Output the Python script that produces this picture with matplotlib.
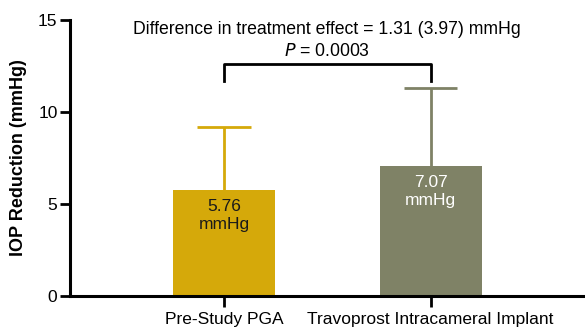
import matplotlib
matplotlib.use("Agg")
import matplotlib.pyplot as plt

plt.rcParams['font.family'] = ['Liberation Sans', 'DejaVu Sans']

categories = ["Pre-Study PGA", "Travoprost Intracameral Implant"]
means = [5.76, 7.07]
sds = [3.42, 4.22]
bar_labels = ["5.76\nmmHg", "7.07\nmmHg"]
label_colors = ["#1a1a1a", "white"]
colors = ["#D5A90A", "#7F8266"]
yticks = [0, 5, 10, 15]
diff_text = "Difference in treatment effect = 1.31 (3.97) mmHg"
p_text = "$\\it{P}$ = 0.0003"

fig = plt.figure(figsize=(5.85, 3.31), dpi=100)
ax = fig.add_axes([70/585, 35/331, 515/585, 276/331])

x = [0, 1]
cap_half = 0.13
for i in range(2):
    top = means[i] + sds[i]
    ax.vlines(x[i], means[i], top, color=colors[i], lw=2, zorder=1)
    ax.hlines(top, x[i] - cap_half, x[i] + cap_half, color=colors[i], lw=2, zorder=1)
    ax.bar(x[i], means[i], width=0.494, color=colors[i], zorder=2)
    ax.text(x[i], means[i] - 0.5, bar_labels[i], ha='center', va='top',
            fontsize=12.5, color=label_colors[i], linespacing=1.25, zorder=3)

# significance bracket
yb = 12.6
ax.plot([0, 0, 1, 1], [11.7, yb, yb, 11.7], color='black', lw=2, clip_on=False)
ax.text(0.5, 14.5, diff_text, ha='center', va='center', fontsize=12.7)
ax.text(0.5, 13.3, p_text, ha='center', va='center', fontsize=12.7)

ax.set_xlim(-0.746, 1.748)
ax.set_ylim(0, 15)
ax.set_yticks(yticks)
ax.set_xticks(x)
ax.set_xticklabels(categories, fontsize=12.5)
ax.tick_params(axis='y', labelsize=12.5, width=2, length=7, color='black', pad=2)
ax.tick_params(axis='x', width=2, length=8, pad=3.5)
for s in ['top', 'right']:
    ax.spines[s].set_visible(False)
for s in ['left', 'bottom']:
    ax.spines[s].set_linewidth(2.2)
ax.set_ylabel("IOP Reduction (mmHg)", fontsize=13, fontweight='bold', labelpad=8)

fig.savefig("out.png", dpi=100)
